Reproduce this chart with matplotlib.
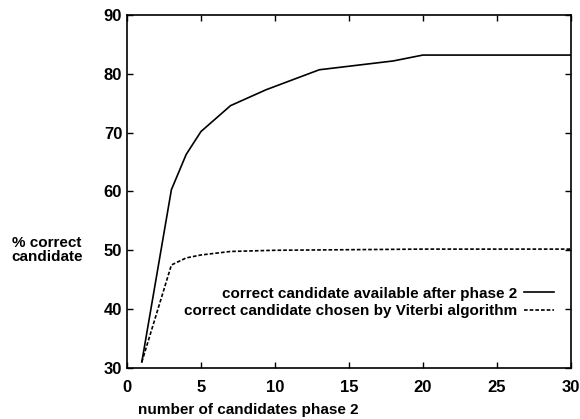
import matplotlib

matplotlib.use("Agg")
import matplotlib.pyplot as plt

plt.rcParams["font.family"] = ["Liberation Sans", "DejaVu Sans"]
plt.rcParams["font.weight"] = "bold"

# candidates after phase 2 vs % correct
n_available = [1, 3, 4, 5, 7, 9.4, 13, 18, 20, 30]
pct_available = [31, 60.3, 66.3, 70.2, 74.6, 77.3, 80.7, 82.2, 83.2, 83.2]

n_viterbi = [1, 3, 4, 5, 7, 10, 20, 30]
pct_viterbi = [31, 47.5, 48.7, 49.2, 49.8, 50.0, 50.2, 50.2]

fig = plt.figure(figsize=(5.8, 4.19), dpi=100)
ax = fig.add_axes([0.219, 0.122, 0.765, 0.842])

ax.plot(n_available, pct_available, color="black", lw=1.2,
        label="correct candidate available after phase 2")
ax.plot(n_viterbi, pct_viterbi, color="black", lw=1.2, dashes=(2.2, 1.2),
        label="correct candidate chosen by Viterbi algorithm")

ax.set_xlim(0, 30)
ax.set_ylim(30, 90)
ax.set_xticks(range(0, 31, 5))
ax.set_yticks(range(30, 91, 10))
ax.tick_params(direction="in", top=True, right=True, length=4, width=1,
               labelsize=12)
ax.tick_params(axis="x", pad=9)
ax.tick_params(axis="y", pad=3.5)
for s in ax.spines.values():
    s.set_linewidth(1.2)

fig.text(0.081, 0.403, "% correct\ncandidate", ha="center", va="center",
         fontsize=11, linespacing=0.95)
fig.text(138 / 580, 0.021, "number of candidates phase 2", ha="left",
         va="center", fontsize=11)

ax.legend(loc="lower right", bbox_to_anchor=(0.987, 0.11), frameon=False,
          markerfirst=False, fontsize=11, handlelength=2.0, handletextpad=0.4,
          labelspacing=0.25, borderpad=0.2)

fig.savefig("out.png", dpi=100)
